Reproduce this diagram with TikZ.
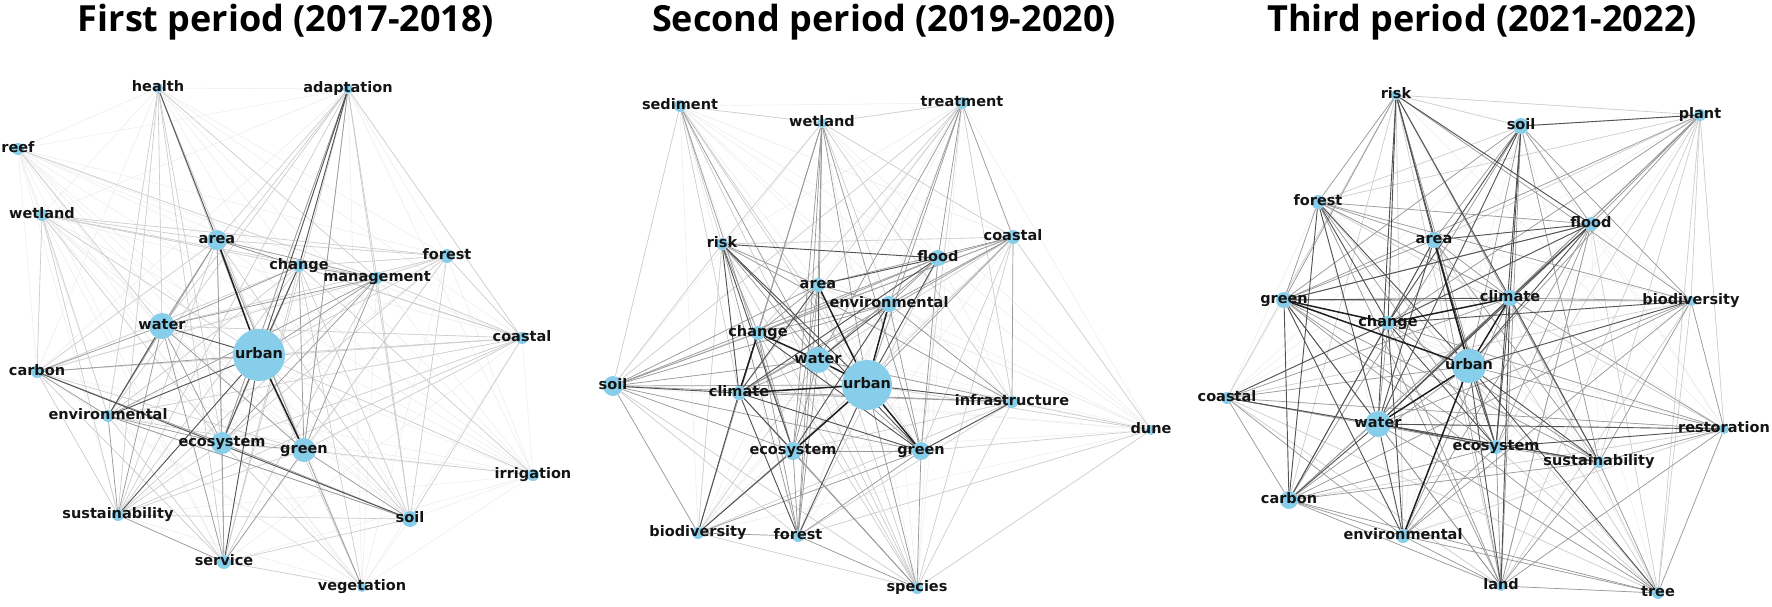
\documentclass[tikz,border=0pt]{standalone}
\usepackage{fontspec}
\newfontfamily\lblfont{DejaVu Sans}
\newfontfamily\ttlfont{Open Sans}
\definecolor{kwblue}{RGB}{135,206,235}
\pgfdeclarelayer{edges}
\pgfsetlayers{edges,main}
\tikzset{
  kw/.style={circle, fill=kwblue, draw=none, inner sep=0pt},
  kwlabel/.style={font=\lblfont\bfseries\fontsize{14.5}{16}\selectfont, text=black!92, inner sep=0pt, text height=9.5pt, text depth=2.5pt},
  ttl/.style={font=\ttlfont\bfseries\fontsize{36}{40}\selectfont, anchor=base, inner sep=0pt},
  e0/.style={draw=black!8, line width=.5pt},
  e1/.style={draw=black!20, line width=.6pt},
  e2/.style={draw=black!40, line width=.7pt},
  e3/.style={draw=black!68, line width=.9pt},
  e4/.style={draw=black!88, line width=1.5pt},
}
\def\listA{health/158/88/5, adaptation/348/89/5, reef/18/149/6, wetland/42/215/6, area/217/240/10, change/299/266/6, management/377/278/6, forest/447/256/7, water/162/326/13, urban/259/355/26, coastal/522/338/6, carbon/37/372/6, environmental/108/416/6, ecosystem/222/443/11, green/304/450/12, irrigation/533/475/6, sustainability/118/515/6, soil/410/519/8, service/224/562/7, vegetation/362/587/5}
\def\namesA{health,adaptation,reef,wetland,area,change,management,forest,water,urban,coastal,carbon,environmental,ecosystem,green,irrigation,sustainability,soil,service,vegetation}
\def\listB{sediment/680/106/6, treatment/962/103/6, wetland/822/123/5, risk/722/244/6, coastal/1013/237/7, flood/938/258/8, area/818/285/7, environmental/889/304/8, change/758/333/7, water/818/360/13, urban/867/385/25, soil/613/386/10, climate/739/393/7, infrastructure/1012/402/6, dune/1151/430/5, ecosystem/793/451/9, green/921/451/9, biodiversity/698/533/6, forest/798/536/6, species/917/588/6}
\def\namesB{sediment,treatment,wetland,risk,coastal,flood,area,environmental,change,water,urban,soil,climate,infrastructure,dune,ecosystem,green,biodiversity,forest,species}
\def\listC{risk/1396/95/5, plant/1700/115/6, soil/1521/126/8, forest/1318/202/7, flood/1591/224/7, area/1434/240/8, green/1284/300/8, climate/1510/298/8, biodiversity/1691/301/5, change/1388/323/7, urban/1469/366/17, coastal/1227/398/6, water/1378/424/13, restoration/1724/429/5, ecosystem/1496/447/7, sustainability/1599/462/6, carbon/1289/500/9, environmental/1403/536/7, land/1501/586/5, tree/1658/593/6}
\def\namesC{risk,plant,soil,forest,flood,area,green,climate,biodiversity,change,urban,coastal,water,restoration,ecosystem,sustainability,carbon,environmental,land,tree}
\begin{document}
\begin{tikzpicture}[x=1pt,y=-1pt]
\useasboundingbox (0,0) rectangle (1772,606);
% titles
\node[ttl] (t1) at (286,31) {First period (2017-2018)};
\node[ttl] (t2) at (884,31) {Second period (2019-2020)};
\node[ttl] (t3) at (1482,31) {Third period (2021-2022)};
% node circles
\foreach \n/\x/\y/\r in \listA {\node[kw, minimum size={2*\r*1pt}] (a-\n) at (\x,\y) {};}
\foreach \n/\x/\y/\r in \listB {\node[kw, minimum size={2*\r*1pt}] (b-\n) at (\x,\y) {};}
\foreach \n/\x/\y/\r in \listC {\node[kw, minimum size={2*\r*1pt}] (c-\n) at (\x,\y) {};}
\begin{pgfonlayer}{edges}
% ---------- panel 1 ----------
\foreach \u [count=\i] in \namesA {\foreach \v [count=\j] in \namesA {\ifnum\j>\i \draw[e0] (a-\u) -- (a-\v);\fi}}
\foreach \u/\v in {health/water, health/environmental, health/sustainability, health/ecosystem, health/urban, health/green, health/management, health/service,
 adaptation/area, adaptation/water, adaptation/environmental, adaptation/green, adaptation/ecosystem, adaptation/coastal, adaptation/sustainability, adaptation/soil, adaptation/service, adaptation/management,
 wetland/area, wetland/change, wetland/management, wetland/forest, wetland/urban, wetland/environmental, wetland/carbon, wetland/sustainability, wetland/ecosystem,
 area/forest, area/coastal, area/carbon, area/sustainability, area/soil, area/service,
 change/forest, change/coastal, change/environmental, change/carbon, change/sustainability, change/soil, change/service, change/vegetation,
 management/coastal, management/carbon, management/sustainability, management/soil, management/service, management/forest,
 forest/water, forest/green, forest/soil, forest/ecosystem, forest/coastal,
 coastal/urban, coastal/water, coastal/green, coastal/ecosystem, coastal/environmental, coastal/sustainability, coastal/soil, coastal/carbon,
 carbon/green, carbon/sustainability, carbon/service, environmental/green, environmental/service, environmental/soil,
 ecosystem/vegetation, ecosystem/sustainability, green/sustainability, service/soil, service/vegetation, sustainability/soil,
 irrigation/urban, irrigation/green, irrigation/change, urban/soil, urban/vegetation, urban/forest, reef/management, reef/water}
 {\draw[e1] (a-\u) -- (a-\v);}
\foreach \u/\v in {water/area, water/change, water/management, water/ecosystem, water/carbon, water/green, water/sustainability, water/service,
 area/change, area/management, area/ecosystem, area/green, area/environmental, change/management, change/green, change/ecosystem,
 management/green, management/ecosystem, management/environmental, urban/management, urban/carbon,
 adaptation/ecosystem, adaptation/green, environmental/sustainability, environmental/ecosystem, ecosystem/service, ecosystem/green,
 ecosystem/soil, green/service, green/vegetation, green/soil, carbon/ecosystem, sustainability/service, carbon/environmental, environmental/soil}
 {\draw[e2] (a-\u) -- (a-\v);}
\foreach \u/\v in {urban/water, urban/change, urban/ecosystem, urban/sustainability, urban/environmental, urban/service, health/area, adaptation/change, adaptation/urban, water/environmental, carbon/soil}
 {\draw[e3] (a-\u) -- (a-\v);}
\foreach \u/\v in {urban/area, urban/green}
 {\draw[e4] (a-\u) -- (a-\v);}
% ---------- panel 2 ----------
\foreach \u [count=\i] in \namesB {\foreach \v [count=\j] in \namesB {\ifnum\j>\i \draw[e0] (b-\u) -- (b-\v);\fi}}
\foreach \u/\v in {sediment/urban, sediment/climate, sediment/green, sediment/soil, sediment/risk, sediment/wetland, sediment/species,
 treatment/wetland, treatment/green, treatment/infrastructure, treatment/soil, treatment/climate, treatment/change,
 wetland/risk, wetland/environmental, wetland/infrastructure, wetland/coastal, risk/soil, risk/coastal, risk/species, risk/biodiversity,
 coastal/green, coastal/species, coastal/dune, coastal/water, coastal/soil, coastal/ecosystem,
 infrastructure/dune, infrastructure/species, infrastructure/ecosystem, dune/urban, dune/species, dune/green, dune/forest,
 species/soil, species/biodiversity, species/water, species/area, species/change, soil/forest,
 biodiversity/water, biodiversity/infrastructure, forest/infrastructure, forest/flood}
 {\draw[e1] (b-\u) -- (b-\v);}
\foreach \u/\v in {sediment/water, sediment/ecosystem, treatment/urban, treatment/water, treatment/flood, treatment/environmental, treatment/coastal,
 wetland/area, wetland/water, wetland/ecosystem, wetland/forest, wetland/green, wetland/urban, wetland/change, wetland/climate,
 risk/area, risk/change, risk/water, risk/forest, risk/infrastructure,
 coastal/flood, coastal/area, coastal/environmental, coastal/change, coastal/climate, coastal/urban, coastal/infrastructure,
 flood/change, flood/water, flood/environmental, flood/green, flood/soil,
 area/change, area/environmental, area/ecosystem, area/soil, area/forest,
 environmental/change, environmental/climate, environmental/green, environmental/soil, environmental/infrastructure,
 change/soil, change/ecosystem, change/forest, change/biodiversity,
 water/soil, water/climate, water/ecosystem, water/green, water/infrastructure, water/forest,
 urban/soil, urban/species, urban/biodiversity, soil/ecosystem, soil/green, soil/infrastructure, soil/biodiversity,
 climate/infrastructure, climate/species, ecosystem/green, ecosystem/forest, ecosystem/species, green/species, green/forest,
 biodiversity/forest, biodiversity/green, forest/species}
 {\draw[e2] (b-\u) -- (b-\v);}
\foreach \u/\v in {urban/flood, urban/infrastructure, risk/flood, risk/climate, risk/ecosystem, risk/urban, climate/biodiversity, ecosystem/biodiversity,
 climate/forest, flood/area, urban/forest, area/water, risk/green, climate/green, area/climate, flood/climate, green/infrastructure,
 environmental/ecosystem, water/environmental, change/green, soil/climate, climate/ecosystem}
 {\draw[e3] (b-\u) -- (b-\v);}
\foreach \u/\v in {urban/water, urban/climate, urban/green, urban/area, urban/environmental, urban/ecosystem, change/water, change/climate}
 {\draw[e4] (b-\u) -- (b-\v);}
% ---------- panel 3 ----------
\foreach \u [count=\i] in \namesC {\foreach \v [count=\j] in \namesC {\ifnum\j>\i \draw[e0] (c-\u) -- (c-\v);\fi}}
\foreach \u/\v in {plant/forest, plant/area, plant/ecosystem, plant/sustainability, plant/restoration, plant/tree, plant/biodiversity, plant/soil,
 risk/soil, risk/plant, risk/coastal, risk/carbon, risk/land, risk/environmental, forest/soil, forest/restoration, forest/tree,
 biodiversity/tree, biodiversity/land, biodiversity/coastal, restoration/carbon, restoration/environmental, coastal/tree, coastal/land,
 tree/ecosystem, tree/area, tree/climate, tree/flood, land/flood, land/plant}
 {\draw[e1] (c-\u) -- (c-\v);}
\foreach \u/\v in {risk/forest, risk/green, risk/ecosystem, risk/sustainability, risk/biodiversity,
 soil/area, soil/green, soil/urban, soil/carbon, soil/sustainability, soil/land, soil/biodiversity, soil/flood,
 plant/flood, plant/change, plant/urban, plant/climate, plant/water, plant/green,
 forest/area, forest/climate, forest/green, forest/ecosystem, forest/land, forest/biodiversity, forest/flood,
 flood/carbon, flood/green, flood/ecosystem, flood/environmental, flood/land,
 area/green, area/climate, area/carbon, area/land, area/sustainability,
 green/biodiversity, green/ecosystem, green/land, green/sustainability, green/tree,
 climate/biodiversity, climate/carbon, climate/environmental, climate/restoration, climate/coastal,
 biodiversity/water, biodiversity/carbon, biodiversity/sustainability, biodiversity/restoration, biodiversity/environmental,
 change/water, change/carbon, change/sustainability, change/land, change/restoration,
 urban/carbon, urban/coastal, urban/restoration, coastal/water, coastal/carbon, coastal/environmental, coastal/ecosystem, coastal/restoration,
 water/land, water/tree, ecosystem/sustainability, ecosystem/land, ecosystem/carbon, ecosystem/environmental,
 sustainability/tree, sustainability/land, sustainability/carbon, sustainability/restoration,
 carbon/environmental, carbon/land, carbon/tree, environmental/land, environmental/tree, land/tree, restoration/tree, restoration/land}
 {\draw[e2] (c-\u) -- (c-\v);}
\foreach \u/\v in {risk/flood, risk/area, risk/change, risk/climate, risk/water, risk/urban, forest/urban, forest/carbon, forest/change, forest/water,
 flood/urban, flood/area, flood/change, flood/water, flood/climate, soil/water, soil/change, soil/ecosystem, soil/plant, soil/climate,
 urban/sustainability, urban/land, urban/tree, urban/ecosystem, climate/water, climate/sustainability, climate/ecosystem,
 water/ecosystem, water/sustainability, water/carbon, water/restoration, carbon/change, green/carbon, green/water, green/climate, green/flood,
 climate/land, change/ecosystem, water/environmental, coastal/change, green/environmental, area/water, area/change, change/environmental,
 biodiversity/urban, biodiversity/change, coastal/sustainability, ecosystem/restoration, area/ecosystem}
 {\draw[e3] (c-\u) -- (c-\v);}
\foreach \u/\v in {urban/green, urban/area, change/climate, urban/water, urban/climate, green/change, urban/environmental}
 {\draw[e4] (c-\u) -- (c-\v);}
\end{pgfonlayer}
% labels on top
\foreach \n/\x/\y/\r in \listA {\node[kwlabel] (a-\n-t) at (\x,\y) {\n};}
\foreach \n/\x/\y/\r in \listB {\node[kwlabel] (b-\n-t) at (\x,\y) {\n};}
\foreach \n/\x/\y/\r in \listC {\node[kwlabel] (c-\n-t) at (\x,\y) {\n};}
\end{tikzpicture}
\end{document}
